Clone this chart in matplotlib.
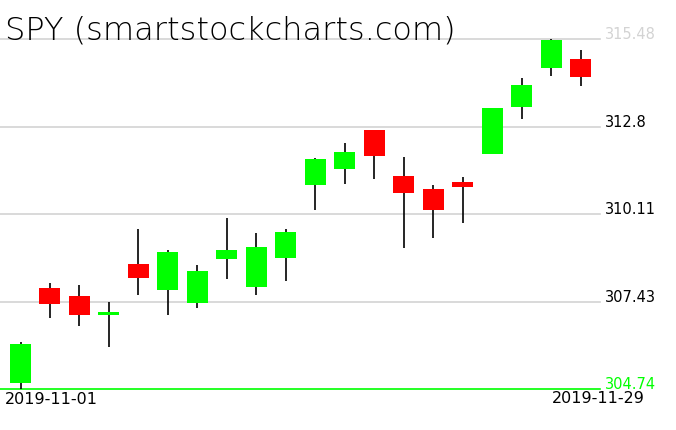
import matplotlib
matplotlib.use("Agg")
import matplotlib.pyplot as plt
import matplotlib.transforms as mtransforms

# Datos OHLC de SPY, noviembre 2019
dates = ["2019-11-01", "2019-11-04", "2019-11-05", "2019-11-06", "2019-11-07",
         "2019-11-08", "2019-11-11", "2019-11-12", "2019-11-13", "2019-11-14",
         "2019-11-15", "2019-11-18", "2019-11-19", "2019-11-20", "2019-11-21",
         "2019-11-22", "2019-11-25", "2019-11-26", "2019-11-27", "2019-11-29"]
opens = [304.92, 307.85, 307.60, 307.03, 308.59, 307.80, 307.40, 308.75, 307.89, 308.78,
         311.02, 311.51, 312.70, 311.29, 310.89, 311.10, 311.97, 313.41, 314.61, 314.88]
highs = [306.19, 307.99, 307.93, 307.41, 309.66, 309.01, 308.55, 310.00, 309.54, 309.66,
         311.84, 312.30, 312.70, 311.86, 311.01, 311.26, 313.37, 314.29, 315.48, 315.15]
lows = [304.74, 306.94, 306.69, 306.05, 307.64, 307.03, 307.24, 308.13, 307.64, 308.07,
        310.25, 311.03, 311.20, 309.07, 309.39, 309.85, 311.97, 313.04, 314.36, 314.06]
closes = [306.14, 307.37, 307.03, 307.10, 308.16, 308.95, 308.37, 309.02, 309.11, 309.57,
          311.81, 312.02, 311.91, 310.77, 310.25, 310.96, 313.37, 314.08, 315.46, 314.33]

levels = [304.74, 307.43, 310.11, 312.8, 315.48]
level_labels = ["304.74", "307.43", "310.11", "312.8", "315.48"]
title = "SPY (smartstockcharts.com)"

fig = plt.figure(figsize=(6.76, 4.31), dpi=100)
ax = fig.add_axes([0, 40.7 / 431, 600 / 676, 350 / 431])
ax.set_xlim(-0.696, 19.66)
ax.set_ylim(levels[0], levels[-1])
ax.axis("off")

# lineas horizontales de referencia
for i, lv in enumerate(levels):
    color = "#00ff00" if i == 0 else "#d3d3d3"
    ax.axhline(lv, color=color, lw=1.2, zorder=1, clip_on=False)

# velas
body_w = 0.713
for i in range(len(dates)):
    o, h, l, c = opens[i], highs[i], lows[i], closes[i]
    color = "#00ff00" if c >= o else "#ff0000"
    ax.vlines(i, l, h, color="black", lw=1.2, zorder=2, clip_on=False)
    ax.bar(i, abs(c - o), bottom=min(o, c), width=body_w, color=color,
           edgecolor="none", zorder=3, clip_on=False)

# etiquetas de precio a la derecha
trans = mtransforms.blended_transform_factory(ax.transAxes, ax.transData)
for i, lv in enumerate(level_labels):
    if i == 0:
        col = "#00ff00"
    elif i == len(level_labels) - 1:
        col = "#d3d3d3"
    else:
        col = "black"
    ax.text(1.008, levels[i] + 0.03, lv, transform=trans, color=col, fontsize=10.5,
            ha="left", va="baseline")

# fechas
ax.text(0.008, levels[0] - 0.06, dates[0], transform=trans, fontsize=11.5,
        ha="left", va="top")
ax.text(1.075, levels[0] - 0.01, dates[-1], transform=trans, fontsize=11.5,
        ha="right", va="top")

fig.text(5 / 676, 1 - 39 / 431, title, fontsize=23, ha="left", va="baseline",
         color="black", fontweight="light")

fig.savefig("out.png", dpi=100)
